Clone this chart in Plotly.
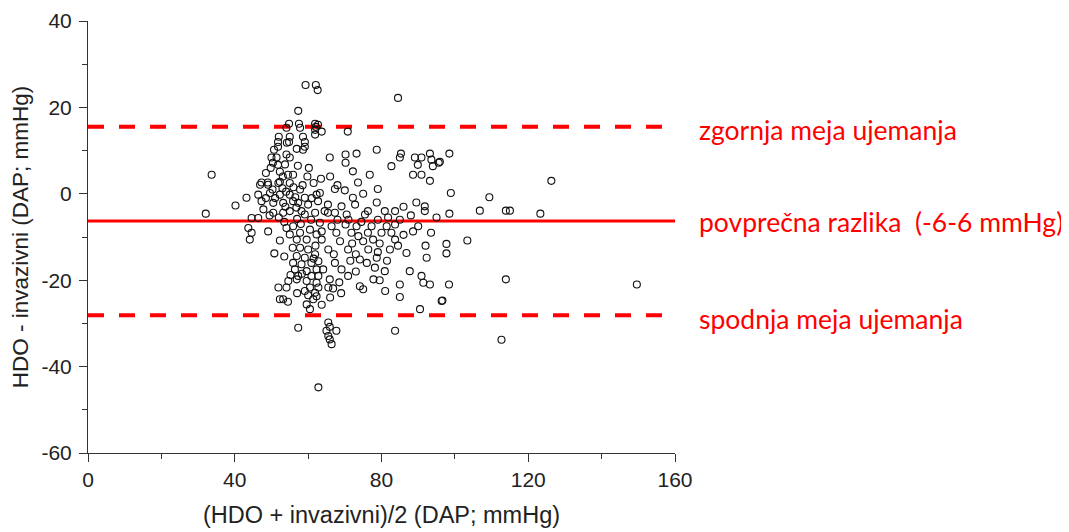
import plotly.graph_objects as go

# Mean of the two methods (x) and difference (y)
mean_vals = [
    32.1, 33.7, 40.2, 43.2, 44.6, 46.4, 43.7, 44.6, 44.1, 49.1, 52.3, 50.8, 46.9, 46.4, 47.3, 47.8,
    49.1, 51.9, 55.0, 57.8, 49.6, 52.3, 55.0, 59.1, 62.3, 50.5, 53.2, 55.9, 57.3, 60.0, 50.5, 53.2,
    55.0, 58.2, 59.1, 61.9, 54.1, 55.9, 57.8, 60.5, 55.0, 56.9, 59.6, 62.3, 57.8, 60.0, 61.9, 56.9,
    59.1, 55.9, 58.2, 60.9, 56.4, 59.6, 62.3, 57.3, 60.9, 54.6, 56.9, 59.6, 62.3, 51.9, 54.1, 60.5,
    52.3, 53.2, 59.1, 61.9, 61.4, 59.6, 60.5, 62.8, 57.3, 62.8,
    59.3, 62.1, 62.6, 57.3, 54.8, 57.5, 61.9, 54.1, 57.8, 61.9, 52.0, 55.0, 58.6, 51.8, 54.8, 59.1,
    51.8, 54.2, 59.1, 50.7, 54.1, 56.9, 58.6, 55.0, 50.0, 51.4, 50.4, 51.8, 52.3, 53.1, 54.5, 55.9,
    47.3, 49.0, 52.3, 61.9, 62.1,
    84.5, 62.7, 70.8, 63.7, 78.7, 65.9, 70.2, 73.2, 70.2, 85.3, 85.0, 82.7, 89.1, 90.9, 93.2, 93.6,
    95.6, 89.9, 94.0, 72.2, 76.8, 88.6, 90.9, 93.2, 73.6,
    67.3, 79.0, 63.2, 62.7, 65.4, 69.1, 72.2, 72.8, 78.7, 80.9, 83.7, 76.3, 89.5, 91.8, 91.8, 65.4,
    67.3, 70.5, 75.5, 81.8, 63.2, 66.4, 70.2, 73.2, 77.3, 81.4, 83.7, 90.0, 88.6, 63.7, 67.7, 71.8,
    76.3, 82.7, 63.7, 68.7, 73.7, 77.7, 83.7, 65.5, 70.9, 76.4, 82.3, 74.1, 78.7, 86.8, 92.3, 62.8,
    67.3, 64.1, 69.1, 78.2, 80.9, 87.7, 90.9, 62.8, 65.9, 70.9, 77.8, 85.0, 91.4, 93.2, 74.1, 65.5,
    66.8, 62.3, 63.7, 75.0, 85.0, 96.4, 90.5, 65.5, 65.9, 65.0, 67.7, 65.5, 65.9, 66.4, 83.7,
    98.5, 95.9, 126.3, 98.9, 109.4, 98.5, 106.8, 113.9, 115.0, 123.3, 97.7, 103.4, 97.7, 98.4, 113.9,
    96.6, 112.7, 149.6,
    50.3, 51.0, 53.0, 54.0, 56.0, 56.5, 58.5, 48.5, 53.8, 56.8, 52.0, 57.0, 49.5, 60.8, 61.0, 61.5,
    59.8, 60.2, 57.2, 53.7, 48.5, 49.8, 53.5, 58.0, 62.0, 55.8, 53.5, 58.3, 61.5, 55.2, 60.0, 57.0,
    54.5,
    64.5, 68.0, 71.0, 74.5, 79.0, 80.0, 75.0, 79.5, 72.0, 85.0, 86.0, 84.5, 79.0, 73.0, 67.0, 71.5,
    76.0, 81.5, 68.5, 73.0, 79.5, 66.0, 69.0, 81.0, 63.5, 66.0, 68.0, 75.0, 70.0, 86.0, 88.0, 93.5,
    95.0, 92.0,
]
diff_vals = [
    -4.6, 4.4, -2.7, -0.9, -5.6, -5.6, -7.9, -9.0, -10.6, -8.7, -10.8, -13.8, 2.1, -0.2, -1.7, -3.6,
    2.1, 2.5, 2.5, 1.0, 0.2, -0.2, -0.2, -0.9, -0.2, -2.1, -2.1, -1.7, -2.1, -2.5, -4.4, -4.4,
    -4.0, -4.0, -4.8, -4.4, -7.9, -7.5, -9.0, -8.3, -9.4, -10.6, -10.6, -9.4, -12.5, -12.9, -14.0, -14.4,
    -14.8, -16.0, -16.3, -16.0, -17.5, -17.9, -17.5, -19.0, -19.0, -20.2, -19.8, -20.2, -20.6, -21.7, -21.7, -21.7,
    -24.4, -24.4, -22.5, -22.9, -24.4, -25.6, -26.7, -21.7, -31.0, -44.8,
    25.2, 25.2, 24.0, 19.2, 16.2, 16.2, 16.2, 15.3, 15.3, 14.8, 13.2, 13.2, 13.2, 12.0, 12.0, 12.0,
    10.9, 11.8, 10.9, 10.2, 9.1, 10.4, 10.2, 8.4, 8.4, 8.4, 7.2, 6.7, 5.1, 4.0, 4.4, 4.4,
    2.6, 2.6, 2.8, 13.7, 15.5,
    22.2, 16.0, 14.4, 14.4, 10.2, 8.4, 9.1, 9.3, 7.2, 9.3, 8.4, 6.4, 8.4, 8.4, 9.3, 7.9,
    7.2, 6.7, 6.4, 5.2, 4.4, 4.4, 4.4, 3.0, 2.6,
    1.1, 1.1, 0.2, -1.7, -2.5, -2.9, -0.9, -2.5, -2.0, -4.0, -4.0, -4.0, -2.0, -2.9, -4.0, -4.4,
    -4.4, -4.8, -4.8, -5.5, -6.7, -7.5, -7.1, -7.5, -7.5, -7.5, -7.1, -7.5, -8.7, -8.7, -9.0, -9.0,
    -9.0, -9.0, -10.6, -11.0, -9.8, -10.6, -10.6, -12.9, -12.9, -12.9, -12.9, -15.2, -14.8, -13.7, -14.8, -15.6,
    -16.0, -17.5, -17.5, -17.1, -17.9, -17.9, -19.0, -19.0, -19.8, -19.0, -19.8, -21.0, -20.6, -21.0, -21.4, -21.7,
    -21.9, -23.7, -25.7, -22.1, -23.9, -24.8, -26.7, -29.8, -30.8, -31.7, -31.7, -32.9, -33.7, -34.8, -31.7,
    9.3, 7.4, 3.0, 0.2, -0.8, -4.6, -3.9, -3.9, -3.9, -4.6, -11.6, -10.8, -13.8, -21.0, -19.8,
    -24.7, -33.8, -21.0,
    1.0, -1.0, 1.3, 0.5, 1.5, -0.8, 2.0, -1.0, -3.0, -3.2, -5.5, -5.8, -5.0, -6.0, -1.0, 2.5,
    4.0, 6.0, 6.5, 6.8, 4.8, 6.0, -6.5, -7.0, -12.0, -12.5, -14.5, -18.5, -15.0, -18.8, -23.5, -23.0,
    -25.0,
    -4.0, -6.0, -6.0, -6.5, -6.0, -9.0, -11.0, -11.5, -11.5, -6.0, -9.5, -12.0, -13.5, -14.0, -14.0, -15.5,
    -16.0, -15.5, -20.5, -18.0, -20.0, -24.0, -23.0, -22.5, 3.5, 4.0, 2.0, 0.0, 0.8, -3.0, -5.0, -9.0,
    -5.5, -12.0,
]

# Bland-Altman reference lines
line_names = ["zgornja meja ujemanja", "povprečna razlika  (-6-6 mmHg)", "spodnja meja ujemanja"]
line_values = [15.5, -6.3, -28.1]
line_dashes = ["16px,15px", "solid", "16px,15px"]
line_widths = [4, 3, 4]
label_shifts = [-3, -1, -4]
x_span = [0, 160]

x_ticks = [0, 40, 80, 120, 160]
x_tick_labels = ["0", "40", "80", "120", "160"]
x_minor = [20, 60, 100, 140]
y_ticks = [-60, -40, -20, 0, 20, 40]
y_tick_labels = ["-60", "-40", "-20", "0", "20", "40"]
y_minor = [-50, -30, -10, 10, 30]

fig = go.Figure()

for name, val, dash, w, sh in zip(line_names, line_values, line_dashes, line_widths, label_shifts):
    fig.add_trace(go.Scatter(
        x=x_span, y=[val, val], mode="lines",
        line=dict(color="#ff0000", width=w, dash=dash),
        hoverinfo="skip", showlegend=False, cliponaxis=False,
    ))
    fig.add_annotation(
        x=1, xref="paper", y=val, yref="y", xanchor="left", yanchor="middle",
        xshift=22, yshift=sh, text=name, showarrow=False,
        font=dict(family="Lato, Carlito, Calibri, sans-serif", size=26.5, color="#ff0000"),
    )

fig.add_trace(go.Scatter(
    x=mean_vals, y=diff_vals, mode="markers",
    marker=dict(symbol="circle-open", size=7, color="#111111", line=dict(width=1.1)),
    showlegend=False,
))

axis_font = dict(family="Liberation Sans, Arial, sans-serif", size=21, color="#222222")

fig.update_layout(
    width=1058, height=524,
    margin=dict(l=80, r=391, t=13, b=79, autoexpand=False),
    paper_bgcolor="white", plot_bgcolor="white",
    showlegend=False,
    xaxis=dict(
        range=[0, 160], tickvals=x_ticks, ticktext=x_tick_labels, ticks="outside", ticklen=8, tickwidth=1,
        tickcolor="#333333", showline=True, linecolor="#333333", linewidth=1,
        showgrid=False, zeroline=False, tickfont=axis_font, ticklabelstandoff=0,
        minor=dict(tickvals=x_minor, ticks="outside", ticklen=5, tickcolor="#333333"),
        title=dict(text="(HDO + invazivni)/2 (DAP; mmHg)",
                   font=dict(family="Liberation Sans, Arial, sans-serif", size=23.5, color="#222222"),
                   standoff=16),
    ),
    yaxis=dict(
        range=[-60, 40], tickvals=y_ticks, ticktext=y_tick_labels, ticks="outside", ticklen=8, tickwidth=1,
        tickcolor="#333333", showline=True, linecolor="#333333", linewidth=1,
        showgrid=False, zeroline=False, tickfont=axis_font, ticklabelstandoff=3,
        minor=dict(tickvals=y_minor, ticks="outside", ticklen=5, tickcolor="#333333"),
        title=dict(text="HDO - invazivni (DAP; mmHg)",
                   font=dict(family="Liberation Sans, Arial, sans-serif", size=22.5, color="#222222"),
                   standoff=8),
    ),
)

fig.write_html("out.html")
